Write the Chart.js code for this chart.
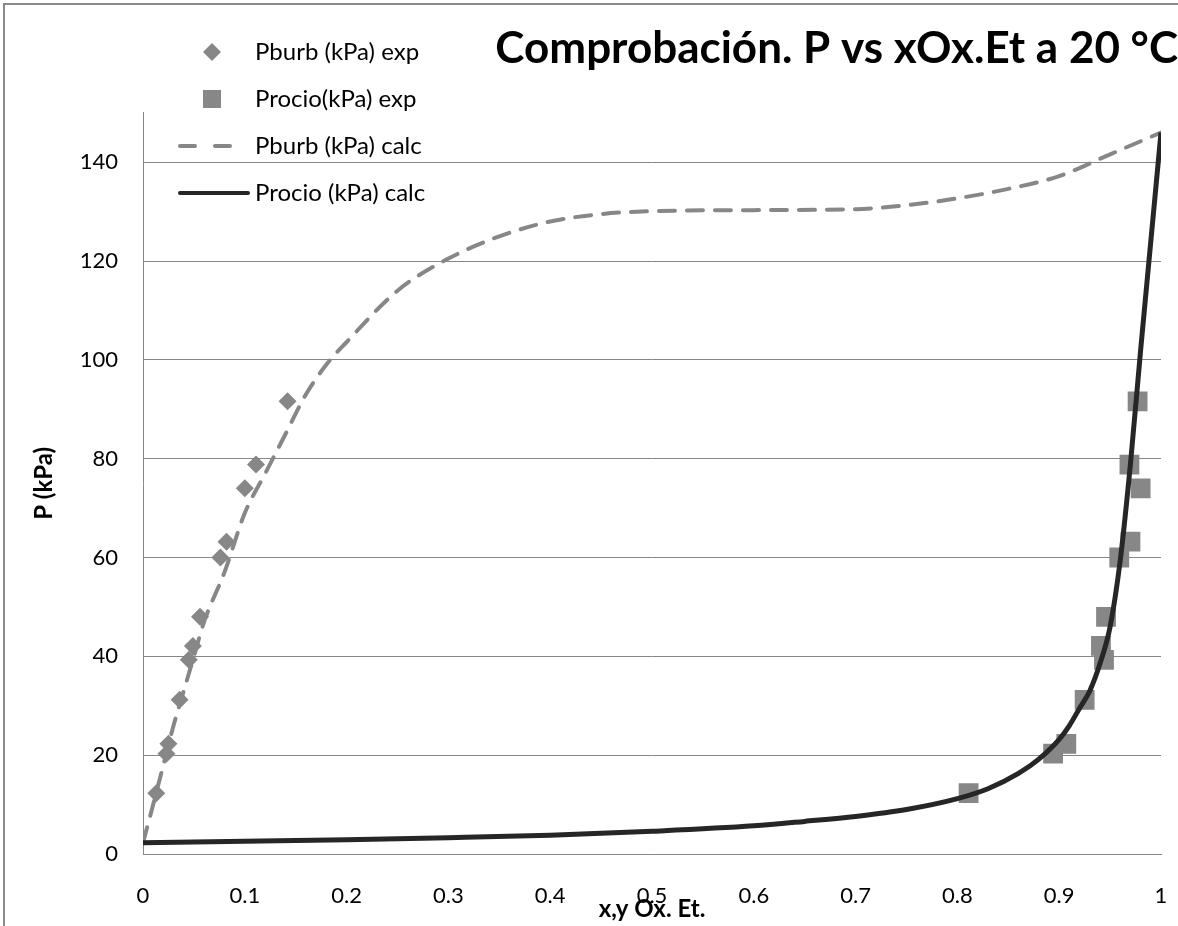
<!DOCTYPE html>
<html>
<head>
<meta charset="utf-8">
<script src="https://cdn.jsdelivr.net/npm/chart.js@4.4.1/dist/chart.umd.min.js"></script>
<style>
  html, body { margin: 0; padding: 0; background: #fff; overflow: hidden; }
  #marco { position: absolute; left: 3px; top: 3px; width: 1300px; height: 1100px; border: 2px solid #8a8a8a; }
  #caja { position: absolute; left: 0; top: 0; width: 1178px; height: 926px; }
</style>
</head>
<body>
<div id="marco"></div>
<div id="caja"><canvas id="grafico"></canvas></div>
<script>
// datos experimentales (misma presion para liquido y vapor)
var pExp = [12.3, 20.3, 22.3, 31.2, 39.3, 42.1, 48.0, 60.0, 63.2, 74.0, 78.8, 91.6];
var xBurbExp = [0.013, 0.023, 0.025, 0.036, 0.045, 0.049, 0.056, 0.076, 0.082, 0.100, 0.111, 0.142];
var yRocioExp = [0.811, 0.894, 0.907, 0.925, 0.944, 0.941, 0.946, 0.959, 0.970, 0.980, 0.969, 0.977];

// curvas calculadas
var xBurbCalc = [0, 0.01, 0.02, 0.03, 0.04, 0.05, 0.06, 0.08, 0.10, 0.12, 0.14, 0.16, 0.18, 0.20, 0.25, 0.30, 0.35, 0.40, 0.45, 0.50, 0.60, 0.70, 0.75, 0.80, 0.85, 0.90, 0.95, 1.0];
var pBurbCalc = [2.3, 10, 18, 26, 33, 40, 47, 57, 69, 77, 85, 93, 99, 103.6, 114, 120.5, 125, 128, 129.5, 130.1, 130.3, 130.5, 131.3, 132.7, 134.6, 137.2, 141.6, 146];
var xRocioCalc = [0, 0.1, 0.2, 0.3, 0.4, 0.5, 0.6, 0.65, 0.7, 0.75, 0.8, 0.83, 0.86, 0.88, 0.9, 0.91, 0.92, 0.93, 0.94, 0.95, 0.96, 0.97, 0.98, 0.99, 1.0];
var pRocioCalc = [2.3, 2.6, 2.9, 3.3, 3.8, 4.6, 5.7, 6.6, 7.6, 9.0, 11.2, 13.2, 16.3, 19.2, 23.2, 26, 29.5, 33, 38.5, 46, 59.5, 79, 102, 124, 146];

var nombres = ["Pburb (kPa) exp", "Procio(kPa) exp", "Pburb (kPa) calc", "Procio (kPa) calc"];
var marcasX = [0, 0.1, 0.2, 0.3, 0.4, 0.5, 0.6, 0.7, 0.8, 0.9, 1];
var marcasY = [0, 20, 40, 60, 80, 100, 120, 140];

var gris = "#878787";
var negro = "#262626";

function puntos(xs, ys) {
  return xs.map(function (x, i) { return {x: x, y: ys[i]}; });
}

// leyenda flotante como en la hoja de calculo
var leyenda = {
  id: "leyenda",
  afterDraw: function (chart) {
    var ctx = chart.ctx;
    ctx.save();
    chart.data.datasets.forEach(function (ds, i) {
      var y = 52 + i * 47;
      if (ds.showLine) {
        ctx.strokeStyle = ds.borderColor;
        ctx.lineWidth = 4;
        ctx.lineCap = "round";
        if (ds.borderDash) {
          ctx.setLineDash([15, 20]);
          ctx.beginPath(); ctx.moveTo(180, y); ctx.lineTo(232, y); ctx.stroke();
        } else {
          ctx.setLineDash([]);
          ctx.beginPath(); ctx.moveTo(180, y); ctx.lineTo(248, y); ctx.stroke();
        }
        ctx.setLineDash([]);
      } else {
        ctx.fillStyle = ds.backgroundColor;
        ctx.beginPath();
        if (ds.pointStyle === "rectRot") {
          ctx.moveTo(212, y - 9); ctx.lineTo(221, y); ctx.lineTo(212, y + 9); ctx.lineTo(203, y);
          ctx.closePath();
        } else {
          ctx.rect(203, y - 9, 18, 18);
        }
        ctx.fill();
      }
      ctx.fillStyle = "#000";
      ctx.font = "24px Lato";
      ctx.textBaseline = "middle";
      ctx.textAlign = "left";
      ctx.fillText(ds.label, 255, y);
    });
    ctx.restore();
  }
};

new Chart("grafico", {
  type: "scatter",
  data: {
    datasets: [
      { label: nombres[0], data: puntos(xBurbExp, pExp), pointStyle: "rectRot", pointRadius: 9, pointHoverRadius: 9,
        backgroundColor: gris, borderColor: gris, borderWidth: 0, order: 2 },
      { label: nombres[1], data: puntos(yRocioExp, pExp), pointStyle: "rect", pointRadius: 14, pointHoverRadius: 14,
        backgroundColor: gris, borderColor: gris, borderWidth: 0, order: 2 },
      { label: nombres[2], data: puntos(xBurbCalc, pBurbCalc), showLine: true, pointRadius: 0, borderColor: gris,
        borderWidth: 4, borderDash: [16, 12], borderCapStyle: "round", cubicInterpolationMode: "monotone", order: 1 },
      { label: nombres[3], data: puntos(xRocioCalc, pRocioCalc), showLine: true, pointRadius: 0, borderColor: negro,
        borderWidth: 5, cubicInterpolationMode: "monotone", order: 0 }
    ]
  },
  options: {
    responsive: true,
    maintainAspectRatio: false,
    animation: false,
    layout: { padding: 0 },
    plugins: {
      legend: { display: false },
      tooltip: { enabled: false },
      title: {
        display: true,
        text: "Comprobación. P vs xOx.Et a 20 °C",
        align: "end",
        color: "#000",
        font: { family: "Lato", size: 44, weight: "bold" },
        padding: { top: 22, bottom: 38 }
      }
    },
    scales: {
      x: {
        type: "linear", min: 0, max: 1,
        afterBuildTicks: function (s) { s.ticks = marcasX.map(function (v) { return {value: v}; }); },
        afterFit: function (s) { s.height = 72; },
        // marcas invisibles: solo sirven para bajar las etiquetas
        grid: { display: false, drawTicks: true, tickLength: 28, tickColor: "transparent" },
        border: { display: true, color: gris, width: 1 },
        ticks: { color: "#000", padding: 1, font: { family: "Lato", size: 22 },
          callback: function (v) { return String(v); } },
        title: { display: true, text: "x,y Ox. Et.", color: "#000",
          font: { family: "Lato", size: 24, weight: "bold" }, padding: { top: 0, bottom: 2 } }
      },
      y: {
        type: "linear", min: 0, max: 150,
        afterBuildTicks: function (s) { s.ticks = marcasY.map(function (v) { return {value: v}; }); },
        afterFit: function (s) { s.width = 143; },
        grid: { color: gris, lineWidth: 1, drawTicks: false },
        border: { display: true, color: gris, width: 1 },
        ticks: { color: "#000", padding: 25, font: { family: "Lato", size: 22 } },
        title: { display: true, text: "P (kPa)", color: "#000",
          font: { family: "Lato", size: 24, weight: "bold" }, padding: { top: 30, bottom: 0 } }
      },
      derecha: {
        type: "linear", position: "right", display: true,
        ticks: { display: false }, grid: { display: false }, border: { display: false },
        afterFit: function (s) { s.width = 17; }
      }
    }
  },
  plugins: [leyenda]
});
</script>
</body>
</html>
